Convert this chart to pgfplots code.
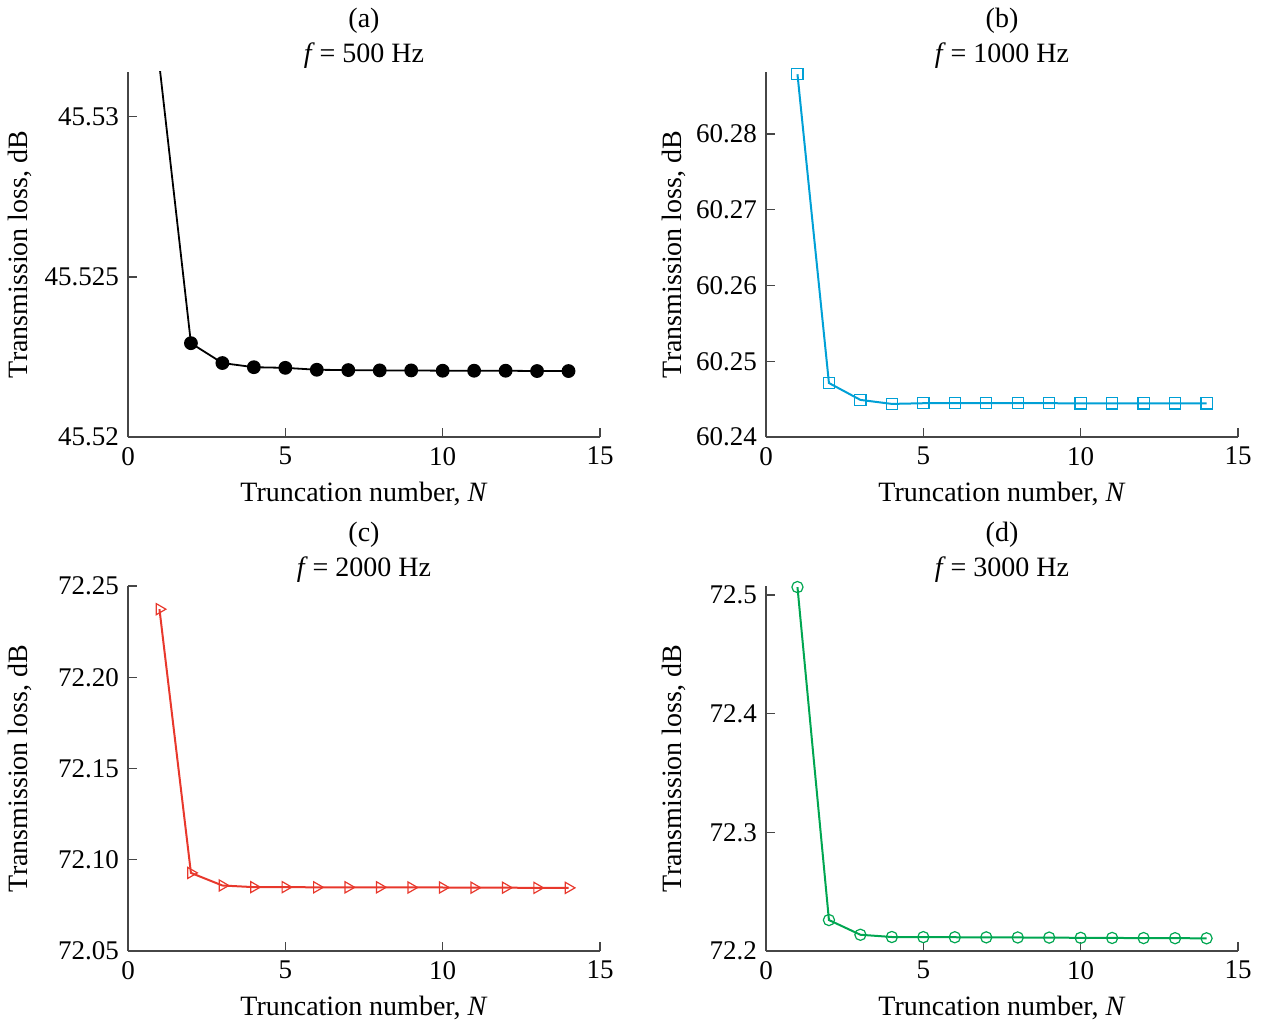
\documentclass[border=0pt]{standalone}
\usepackage{fontspec}
\setmainfont{Liberation Serif}
\usepackage{pgfplots}
\pgfplotsset{compat=1.18}

\definecolor{tlblue}{RGB}{0,160,214}
\definecolor{tlred}{RGB}{232,56,44}
\definecolor{tlgreen}{RGB}{0,166,81}
\definecolor{axgray}{RGB}{70,70,70}

\pgfplotsset{
  tlaxis/.style={
    scale only axis, width=236pt, height=182.5pt,
    axis x line=bottom, axis y line=left,
    axis line style={-, draw=axgray, line width=0.6pt},
    tick align=inside, major tick length=4.5pt,
    tick style={draw=axgray, line width=0.6pt},
    xmin=0, xmax=15, xtick={0,5,10,15}, xticklabels={0,5,10,15},
    xlabel={Truncation number, \textit{N}},
    ylabel={Transmission loss, dB},
    font=\fontsize{14}{17}\selectfont,
    tick label style={font=\fontsize{13.5}{16}\selectfont},
    x tick label style={yshift=-1.5pt},
    y tick label style={xshift=-1pt},
    xlabel style={at={(rel axis cs:0.5,0)}, anchor=center, yshift=-28.5pt},
    title style={align=center, font=\fontsize{14}{17.5}\selectfont, yshift=-8pt},
    clip=true,
  },
  % rotated label: its own y direction points left
  ylab/.style={ylabel style={at={(rel axis cs:0,0.5)}, anchor=center,
    yshift=#1}},
}

\begin{document}
\begin{tikzpicture}
  \useasboundingbox (0,0) rectangle (632pt,512.5pt);

  % (a) f = 500 Hz
  \begin{axis}[tlaxis, ylab=54pt, at={(64pt,294pt)}, anchor=south west,
    ymin=45.52, ymax=45.5314,
    ytick={45.52,45.525,45.53}, yticklabels={45.52,45.525,45.53},
    title={(a)\\\textit{f}\,= 500 Hz}]
  \addplot[black, line width=0.9pt, mark=*, mark size=3pt] coordinates {
    (1,45.5316)(2,45.52293)(3,45.52231)(4,45.52218)(5,45.52216)(6,45.52210)
    (7,45.52209)(8,45.52208)(9,45.52208)(10,45.52207)(11,45.52207)
    (12,45.52207)(13,45.52206)(14,45.52206)
  };
  \end{axis}

  % (b) f = 1000 Hz
  \begin{axis}[tlaxis, ylab=46pt, at={(383pt,294pt)}, anchor=south west,
    ymin=60.24, ymax=60.2882,
    ytick={60.24,60.25,60.26,60.27,60.28},
    yticklabels={60.24,60.25,60.26,60.27,60.28},
    title={(b)\\\textit{f}\,= 1000 Hz}]
  \addplot[tlblue, line width=1pt, mark=square, mark size=2.8pt,
    mark options={fill=white, line width=0.6pt}] coordinates {
    (1,60.2879)(2,60.24713)(3,60.24490)(4,60.24437)(5,60.24446)(6,60.24446)
    (7,60.24446)(8,60.24446)(9,60.24446)(10,60.24445)(11,60.24445)
    (12,60.24445)(13,60.24445)(14,60.24445)
  };
  \end{axis}

  % (c) f = 2000 Hz
  \begin{axis}[tlaxis, ylab=54pt, at={(64pt,37pt)}, anchor=south west,
    ymin=72.05, ymax=72.25,
    ytick={72.05,72.10,72.15,72.20,72.25},
    yticklabels={72.05,72.10,72.15,72.20,72.25},
    title={(c)\\\textit{f}\,= 2000 Hz}]
  \addplot[tlred, line width=1pt, mark=triangle, mark size=3.2pt,
    mark options={fill=white, rotate=-90, line width=0.6pt}] coordinates {
    (1,72.2373)(2,72.0928)(3,72.0859)(4,72.0850)(5,72.0850)(6,72.0849)
    (7,72.0849)(8,72.0849)(9,72.0848)(10,72.0848)(11,72.0847)
    (12,72.0847)(13,72.0846)(14,72.0846)
  };
  \end{axis}

  % (d) f = 3000 Hz
  \begin{axis}[tlaxis, ylab=46pt, at={(383pt,37pt)}, anchor=south west,
    ymin=72.2, ymax=72.5076,
    ytick={72.2,72.3,72.4,72.5}, yticklabels={72.2,72.3,72.4,72.5},
    title={(d)\\\textit{f}\,= 3000 Hz}]
  \addplot[tlgreen, line width=1pt, mark=o, mark size=2.8pt,
    mark options={fill=white, line width=0.6pt}] coordinates {
    (1,72.5067)(2,72.2261)(3,72.2137)(4,72.2118)(5,72.2117)(6,72.2116)
    (7,72.2115)(8,72.2114)(9,72.2113)(10,72.2111)(11,72.2110)
    (12,72.2109)(13,72.2108)(14,72.2107)
  };
  \end{axis}
\end{tikzpicture}
\end{document}
